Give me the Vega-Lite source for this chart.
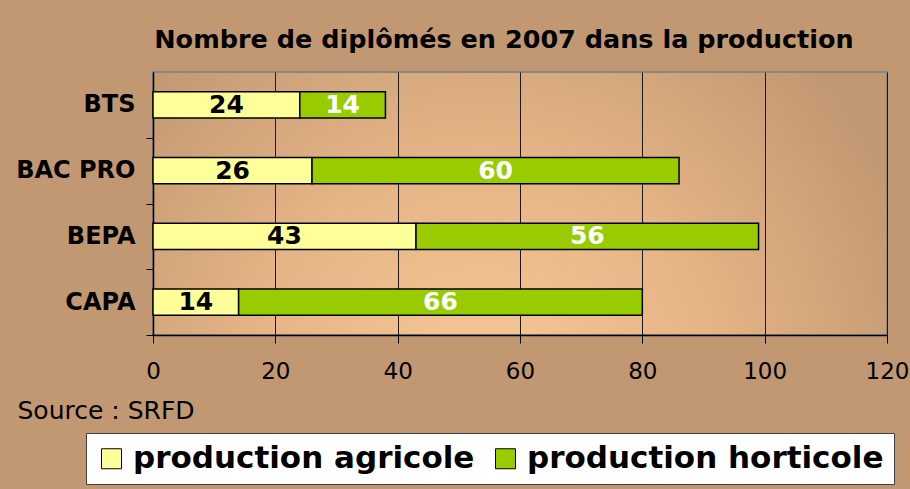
{
  "$schema": "https://vega.github.io/schema/vega-lite/v6.json",
  "width": 734,
  "height": 263,
  "autosize": {"type": "none"},
  "padding": {"left": 153, "top": 72, "right": 23, "bottom": 154},
  "background": "#c29872",
  "title": {
    "text": "Nombre de diplômés en 2007 dans la production",
    "font": "DejaVu Sans",
    "fontSize": 25.5,
    "fontWeight": "bold",
    "color": "#000000",
    "anchor": "middle",
    "dx": -16,
    "offset": 19
  },
  "data": {
    "values": [
      {"diplome": "BTS", "type": "production agricole", "value": 24},
      {"diplome": "BTS", "type": "production horticole", "value": 14},
      {"diplome": "BAC PRO", "type": "production agricole", "value": 26},
      {"diplome": "BAC PRO", "type": "production horticole", "value": 60},
      {"diplome": "BEPA", "type": "production agricole", "value": 43},
      {"diplome": "BEPA", "type": "production horticole", "value": 56},
      {"diplome": "CAPA", "type": "production agricole", "value": 14},
      {"diplome": "CAPA", "type": "production horticole", "value": 66}
    ]
  },
  "encoding": {
    "y": {
      "field": "diplome",
      "type": "nominal",
      "sort": ["BTS", "BAC PRO", "BEPA", "CAPA"],
      "scale": {"paddingInner": 0.6, "paddingOuter": 0.3},
      "axis": {
        "title": null,
        "labelFont": "DejaVu Sans",
        "labelFontSize": 24,
        "labelFontWeight": "bold",
        "labelColor": "#000000",
        "labelPadding": 11,
        "labelOffset": -32.875,
        "tickSize": 7,
        "tickColor": "#000000",
        "tickOffset": 32.875,
        "domainColor": "#000000",
        "domainWidth": 1.5,
        "grid": false
      }
    },
    "order": {"field": "type", "type": "nominal", "sort": "ascending"}
  },
  "layer": [
    {
      "mark": {"type": "bar", "stroke": "#000000", "strokeWidth": 1.5},
      "encoding": {
        "x": {
          "field": "value",
          "type": "quantitative",
          "stack": "zero",
          "scale": {"domain": [0, 120], "nice": false},
          "axis": {
            "values": [0, 20, 40, 60, 80, 100, 120],
            "title": "Source : SRFD",
            "titleFont": "DejaVu Sans",
            "titleFontSize": 25,
            "titleFontWeight": "normal",
            "titleColor": "#000000",
            "titleAnchor": "start",
            "titleAlign": "left",
            "titleBaseline": "alphabetic",
            "titleX": -136,
            "titleY": 83,
            "labelFont": "DejaVu Sans",
            "labelFontSize": 23,
            "labelColor": "#000000",
            "labelPadding": 17,
            "labelFlush": false,
            "labelOverlap": false,
            "tickSize": 8,
            "tickColor": "#000000",
            "domainColor": "#000000",
            "domainWidth": 1.5,
            "grid": true,
            "gridColor": "#1a1a1a",
            "gridWidth": 1
          }
        },
        "color": {
          "field": "type",
          "type": "nominal",
          "scale": {"domain": ["production agricole", "production horticole"], "range": ["#ffff99", "#99cc00"]},
          "legend": {
            "title": null,
            "orient": "none",
            "legendX": -67,
            "legendY": 361,
            "direction": "horizontal",
            "columns": 2,
            "fillColor": "#ffffff",
            "strokeColor": "#404040",
            "padding": 10,
            "labelFont": "DejaVu Sans",
            "labelFontSize": 31,
            "labelFontWeight": "bold",
            "labelColor": "#000000",
            "labelLimit": 600,
            "labelOffset": 6,
            "columnPadding": 15,
            "symbolType": "square",
            "symbolSize": 400,
            "symbolStrokeColor": "#000000",
            "symbolStrokeWidth": 1,
            "symbolOpacity": 1
          }
        }
      }
    },
    {
      "mark": {"type": "text", "font": "DejaVu Sans", "fontSize": 25, "fontWeight": "bold", "baseline": "middle", "align": "center"},
      "encoding": {
        "x": {"field": "value", "type": "quantitative", "stack": "zero", "bandPosition": 0.5},
        "detail": {"field": "type", "type": "nominal"},
        "text": {"field": "value", "type": "quantitative"},
        "fill": {
          "condition": {"test": "datum.type === 'production horticole'", "value": "#ffffff"},
          "value": "#000000"
        }
      }
    }
  ],
  "config": {
    "view": {
      "stroke": "#888888",
      "strokeWidth": 2,
      "fill": {
        "gradient": "radial",
        "x1": 0.45, "y1": 0.75, "r1": 0,
        "x2": 0.45, "y2": 0.75, "r2": 0.62,
        "stops": [
          {"offset": 0, "color": "#f8c898"},
          {"offset": 0.5, "color": "#e6b587"},
          {"offset": 1, "color": "#c29872"}
        ]
      }
    }
  }
}
